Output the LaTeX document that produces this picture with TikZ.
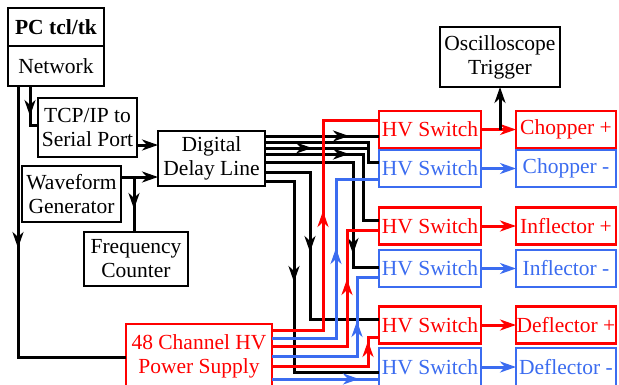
\documentclass[tikz,border=0pt]{standalone}
\usepackage{fontspec}
\setmainfont{Liberation Serif}
\usetikzlibrary{arrows.meta,decorations.markings}
\definecolor{cred}{RGB}{255,0,0}
\definecolor{cblue}{RGB}{59,108,240}
\begin{document}
\begin{tikzpicture}[x=1pt,y=-1pt,
  box/.style={draw, line width=2.8pt, inner sep=0pt, outer sep=0pt, align=center, fill=white,
    font=\fontsize{21.5}{24}\selectfont},
  rbox/.style={box, draw=cred, text=cred},
  bbox/.style={box, draw=cblue, text=cblue},
  hvbox/.style={minimum width=102pt, minimum height=37pt},
  tgbox/.style={minimum width=100pt, minimum height=37pt},
  sig/.style={line width=3pt},
  rsig/.style={line width=3pt, draw=cred},
  bsig/.style={line width=3pt, draw=cblue},
  endtip/.style={-{Stealth[length=16pt,width=11pt,inset=5pt]}},
  marr/.style={postaction={decorate},
    decoration={markings, mark=at position #1 with {\arrow{Stealth[length=16pt,width=11pt,inset=5pt]}}}},
]
\useasboundingbox (0,0) rectangle (619,384);

% ---- black boxes
\node[box, minimum width=96pt, minimum height=38pt, font=\bfseries\fontsize{21.5}{24}\selectfont] (pc) at (56,27) {PC tcl/tk};
\node[box, minimum width=96pt, minimum height=40pt] (net) at (56,66) {Network};
\node[box, minimum width=99pt, minimum height=59pt] (tcp) at (87.5,127.5) {TCP/IP to\\Serial Port};
\node[box, minimum width=107pt, minimum height=55pt] (ddl) at (211.5,158.5) {Digital\\Delay Line};
\node[box, minimum width=99pt, minimum height=56pt] (wg) at (71.5,194) {Waveform\\Generator};
\node[box, minimum width=104pt, minimum height=54pt] (fc) at (136,259) {Frequency\\Counter};
\node[box, minimum width=120pt, minimum height=60pt] (osc) at (500,57) {Oscilloscope\\Trigger};

% ---- HV switches and targets
\node[rbox, hvbox] (hv1) at (430,129.5) {HV Switch};
\node[bbox, hvbox] (hv2) at (430,168.5) {HV Switch};
\node[rbox, hvbox] (hv3) at (430,226) {HV Switch};
\node[bbox, hvbox] (hv4) at (430,268.5) {HV Switch};
\node[rbox, hvbox] (hv5) at (430,325) {HV Switch};
\node[bbox, hvbox, minimum height=38pt] (hv6) at (430,367) {HV Switch};

\node[rbox, tgbox] (chp) at (566,129.5) {Chopper +};
\node[bbox, tgbox] (chm) at (566,168.5) {Chopper -};
\node[rbox, tgbox] (inp) at (566,226) {Inflector +};
\node[bbox, tgbox] (inm) at (566,268.5) {Inflector -};
\node[rbox, tgbox] (dfp) at (566,325) {Deflector +};
\node[bbox, tgbox, minimum height=38pt] (dfm) at (566,367) {Deflector -};

\node[rbox, minimum width=146pt, minimum height=64pt] (ps) at (199,356) {48 Channel HV\\Power Supply};

% ---- control connections
\draw[sig, marr=30pt] ([xshift=-26pt]net.south) |- ([yshift=2.5pt]tcp.west);
\draw[sig, marr=162pt] ([xshift=-38pt]net.south) |- ([yshift=-1pt]ps.west);
\draw[sig, endtip] ([yshift=-17.5pt]tcp.east) -- ([yshift=13.5pt]ddl.west);
\draw[sig, endtip] ([yshift=17pt]wg.east) -- ([yshift=-18.5pt]ddl.west);
\draw[sig, marr=32pt] ([xshift=13pt,yshift=17pt]wg.east) -- ([xshift=-2pt]fc.north);

% ---- delay line triggers
\draw[sig, marr=84pt] ([yshift=-5pt]ddl.north east) -- ([yshift=-6.5pt]hv1.west);
\draw[sig] ([yshift=-11pt]ddl.north east) -| ([xshift=-11pt,yshift=6.5pt]hv2.west) -- ([yshift=6.5pt]hv2.west);
\draw[sig, marr=47pt] ([yshift=-17pt]ddl.north east) -- ++(103,0);
\draw[sig, marr=84pt] ([yshift=-23pt]ddl.north east) -| ([xshift=-16pt,yshift=6pt]hv3.west) -- ([yshift=6pt]hv3.west);
\draw[sig, marr=180pt] ([yshift=-31pt]ddl.north east) -| ([xshift=-26pt,yshift=1.5pt]hv4.west) -- ([yshift=1.5pt]hv4.west);
\draw[sig, marr=125pt] ([yshift=-41pt]ddl.north east) -| ([xshift=-69pt,yshift=6pt]hv5.west) -- ([yshift=6pt]hv5.west);
\draw[sig, marr=130pt] ([yshift=-50pt]ddl.north east) -| ([xshift=-85pt,yshift=-5pt]hv6.west) -- ([yshift=-5pt]hv6.west);

% ---- power supply lines
\draw[rsig, marr=170pt] ([yshift=26pt]ps.east) -| ([xshift=-56pt,yshift=9.5pt]hv1.west) -- ([yshift=9.5pt]hv1.west);
\draw[bsig, marr=154pt] ([yshift=18pt]ps.east) -| ([xshift=-43pt,yshift=-10.5pt]hv2.west) -- ([yshift=-10.5pt]hv2.west);
\draw[rsig, marr=142pt] ([yshift=10pt]ps.east) -| ([xshift=-32pt,yshift=-4pt]hv3.west) -- ([yshift=-4pt]hv3.west);
\draw[bsig, marr=120pt] (ps.east) -| ([xshift=-22pt,yshift=-8.5pt]hv4.west) -- ([yshift=-8.5pt]hv4.west);
\draw[rsig, marr=121pt] ([yshift=-10pt]ps.east) -| ([xshift=-11pt,yshift=-12pt]hv5.west) -- ([yshift=-12pt]hv5.west);
\draw[bsig, marr=87pt] ([yshift=-23pt]ps.east) -- ([yshift=-12pt]hv6.west);

% ---- outputs
\draw[rsig, endtip] (hv1.east) -- (chp.west);
\draw[bsig, endtip] (hv2.east) -- (chm.west);
\draw[rsig, endtip] (hv3.east) -- (inp.west);
\draw[bsig, endtip] (hv4.east) -- (inm.west);
\draw[rsig, endtip] (hv5.east) -- (dfp.west);
\draw[bsig, endtip] (hv6.east) -- (dfm.west);
\draw[sig, endtip] (osc.south |- hv1.east) -- (osc.south);
\end{tikzpicture}
\end{document}
